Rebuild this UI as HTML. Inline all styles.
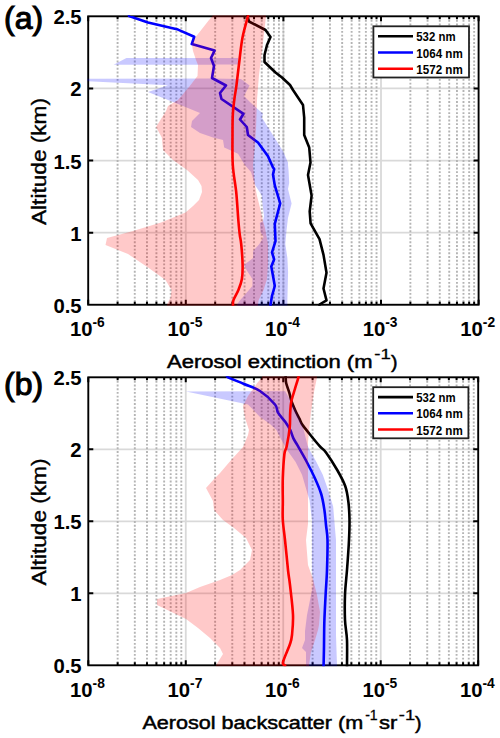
<!DOCTYPE html>
<html><head><meta charset="utf-8"><style>
html,body{margin:0;padding:0;background:#fff;width:500px;height:738px;overflow:hidden}
svg{display:block}
text{font-family:"Liberation Sans",sans-serif;fill:#000}
.tk{font-size:20.3px;font-weight:bold}
.sup{font-size:13.8px}
.lg{font-size:12px;font-weight:bold}
.xl{font-size:18.8px;stroke:#000;stroke-width:0.5px}
.xs{font-size:14.5px;stroke:#000;stroke-width:0.3px}
.yl{font-size:19.8px;stroke:#000;stroke-width:0.4px}
.pl{font-size:32px;stroke:#000;stroke-width:1.1px}
</style></head><body>
<svg width="500" height="738" viewBox="0 0 500 738">
<rect width="500" height="738" fill="#fff"/>
<defs><clipPath id="ca"><rect x="87.25" y="15.350000000000001" width="392.3" height="290.34999999999997"/></clipPath></defs>
<path d="M185.80 16.3V304.8M283.40 16.3V304.8M381.00 16.3V304.8M88.2 232.64H478.6M88.2 160.53H478.6M88.2 88.41H478.6" stroke="#d9d9d9" stroke-width="1.8" fill="none"/>
<path d="M117.58 16.3V304.8M134.77 16.3V304.8M146.96 16.3V304.8M156.42 16.3V304.8M164.15 16.3V304.8M170.68 16.3V304.8M176.34 16.3V304.8M181.33 16.3V304.8M215.18 16.3V304.8M232.37 16.3V304.8M244.56 16.3V304.8M254.02 16.3V304.8M261.75 16.3V304.8M268.28 16.3V304.8M273.94 16.3V304.8M278.93 16.3V304.8M312.78 16.3V304.8M329.97 16.3V304.8M342.16 16.3V304.8M351.62 16.3V304.8M359.35 16.3V304.8M365.88 16.3V304.8M371.54 16.3V304.8M376.53 16.3V304.8M410.38 16.3V304.8M427.57 16.3V304.8M439.76 16.3V304.8M449.22 16.3V304.8M456.95 16.3V304.8M463.48 16.3V304.8M469.14 16.3V304.8M474.13 16.3V304.8M283.40 16.3V304.8" stroke="#b4b4b4" stroke-width="1.9" stroke-dasharray="1.9 1.79" stroke-dashoffset="-3.6" fill="none"/>
<path d="M88.20 304.75v-5M88.20 16.3v5M117.58 304.75v-3M117.58 16.3v3M134.77 304.75v-3M134.77 16.3v3M146.96 304.75v-3M146.96 16.3v3M156.42 304.75v-3M156.42 16.3v3M164.15 304.75v-3M164.15 16.3v3M170.68 304.75v-3M170.68 16.3v3M176.34 304.75v-3M176.34 16.3v3M181.33 304.75v-3M181.33 16.3v3M185.80 304.75v-5M185.80 16.3v5M215.18 304.75v-3M215.18 16.3v3M232.37 304.75v-3M232.37 16.3v3M244.56 304.75v-3M244.56 16.3v3M254.02 304.75v-3M254.02 16.3v3M261.75 304.75v-3M261.75 16.3v3M268.28 304.75v-3M268.28 16.3v3M273.94 304.75v-3M273.94 16.3v3M278.93 304.75v-3M278.93 16.3v3M283.40 304.75v-5M283.40 16.3v5M312.78 304.75v-3M312.78 16.3v3M329.97 304.75v-3M329.97 16.3v3M342.16 304.75v-3M342.16 16.3v3M351.62 304.75v-3M351.62 16.3v3M359.35 304.75v-3M359.35 16.3v3M365.88 304.75v-3M365.88 16.3v3M371.54 304.75v-3M371.54 16.3v3M376.53 304.75v-3M376.53 16.3v3M381.00 304.75v-5M381.00 16.3v5M410.38 304.75v-3M410.38 16.3v3M427.57 304.75v-3M427.57 16.3v3M439.76 304.75v-3M439.76 16.3v3M449.22 304.75v-3M449.22 16.3v3M456.95 304.75v-3M456.95 16.3v3M463.48 304.75v-3M463.48 16.3v3M469.14 304.75v-3M469.14 16.3v3M474.13 304.75v-3M474.13 16.3v3M478.60 304.75v-5M478.60 16.3v5M88.2 232.64h5M478.6 232.64h-5M88.2 160.53h5M478.6 160.53h-5M88.2 88.41h5M478.6 88.41h-5" stroke="#000" stroke-width="2" fill="none"/>
<rect x="88.2" y="16.3" width="390.40000000000003" height="288.45" fill="none" stroke="#000" stroke-width="1.9"/>
<g clip-path="url(#ca)">
<polyline points="247.5,14.8 247.5,16.0 249.0,21.5 265.5,30.0 270.5,37.0 267.0,45.0 264.5,55.0 264.5,62.0 275.5,72.5 282.0,77.5 290.0,85.0 293.0,90.0 298.0,97.5 303.0,105.0 304.2,117.5 304.2,135.0 309.2,147.5 310.5,162.5 308.0,175.0 311.6,195.6 309.7,211.4 310.6,223.3 319.5,239.1 323.5,254.9 326.5,272.7 323.5,288.5 326.5,300.4 319.5,304.5 319.5,306.2" fill="none" stroke="#000" stroke-width="2.6" stroke-linejoin="round"/>
<polygon points="128.0,14.8 128.0,16.0 147.0,22.0 177.0,29.0 193.2,36.3 190.8,43.5 213.6,50.1 210.0,57.9 126.4,58.0 113.6,64.7 213.0,64.8 211.0,78.6 40.0,78.8 88.0,81.2 168.0,85.2 148.0,92.0 183.0,106.0 200.0,113.0 192.0,121.0 191.0,127.0 200.0,133.0 213.0,137.5 223.0,140.0 224.2,147.5 238.0,153.8 244.8,165.0 251.0,172.0 253.5,180.0 255.0,185.0 261.6,195.0 262.8,207.0 264.0,216.0 263.0,221.0 259.8,223.0 260.5,232.0 263.6,237.0 259.4,244.0 253.1,251.0 253.1,258.0 244.0,265.0 246.8,270.6 252.4,279.0 252.4,286.0 244.0,295.8 239.0,301.4 237.0,304.6 237.0,306.2 287.4,306.2 287.4,304.6 287.4,300.0 288.1,272.0 287.4,258.0 285.3,244.0 286.5,230.8 288.0,218.0 291.6,203.4 288.0,189.0 289.2,183.0 288.6,171.0 288.0,165.0 288.0,162.5 283.0,151.2 270.5,131.2 261.8,117.5 263.0,113.8 250.5,102.5 244.0,96.0 249.6,85.4 241.0,79.0 213.0,78.6 215.0,64.5 238.0,64.4 238.0,58.0 212.0,57.9 215.6,51.1 192.8,44.5 195.2,37.3 179.0,30.1 149.0,23.0 130.0,16.0 130.0,14.8" fill="rgba(0,0,255,0.21)"/>
<polyline points="129.0,14.8 129.0,16.0 148.0,22.5 178.0,29.6 194.2,36.8 191.8,44.0 214.6,50.6 211.0,58.0 214.0,66.0 212.0,78.0 226.0,85.5 220.0,93.0 221.5,99.0 243.5,113.8 240.0,119.5 246.8,127.0 248.0,135.0 258.0,142.5 268.0,156.2 273.0,167.5 274.2,169.0 273.0,174.6 274.8,185.4 280.2,203.4 274.8,223.8 275.5,241.2 272.0,252.4 274.1,259.4 271.3,266.4 274.8,286.0 272.0,295.8 270.6,304.5 270.6,306.2" fill="none" stroke="#0000ff" stroke-width="2.6" stroke-linejoin="round"/>
<polygon points="212.5,14.8 212.5,16.0 209.0,20.0 199.6,32.0 194.8,38.0 191.8,44.0 193.0,51.0 196.0,60.0 198.0,65.0 197.5,76.0 189.0,87.0 178.0,100.0 168.0,106.0 166.0,111.0 156.0,127.0 161.8,137.5 163.0,150.0 173.0,160.0 187.0,170.0 198.0,180.0 201.5,186.0 202.0,192.0 199.0,200.0 193.0,206.0 185.5,212.5 161.0,222.5 133.0,231.0 107.0,238.0 105.5,245.0 128.0,254.0 148.0,267.5 165.5,280.0 171.5,290.0 170.5,297.5 167.0,304.6 167.0,306.2 258.0,306.2 258.0,304.6 258.7,300.0 263.6,290.0 267.0,279.0 268.0,265.0 268.0,244.0 265.0,228.0 263.0,221.0 262.0,216.0 259.8,207.0 256.8,195.0 255.0,185.0 254.5,180.0 253.0,165.0 254.5,150.0 256.0,130.0 257.0,100.0 259.0,75.0 262.5,47.0 266.0,16.0 266.0,14.8" fill="rgba(255,0,0,0.21)"/>
<path d="M248.0 14.8C248.0 15.0 248.9 12.2 248.0 16.0C247.1 19.8 243.9 30.2 242.5 37.5C241.1 44.8 240.5 52.1 239.5 60.0C238.5 67.9 237.3 78.5 236.5 85.0C235.7 91.5 235.0 94.0 234.4 99.0C233.8 104.0 233.1 109.0 232.8 115.0C232.5 121.0 232.5 126.7 232.5 135.0C232.5 143.3 232.2 155.3 232.8 165.0C233.4 174.7 235.4 183.7 236.3 193.0C237.2 202.3 237.8 214.0 238.4 221.0C239.0 228.0 239.3 231.2 239.8 235.0C240.3 238.8 240.7 239.0 241.2 244.0C241.7 249.0 242.5 259.2 242.6 265.0C242.7 270.8 242.6 274.8 241.9 279.0C241.2 283.2 239.8 286.5 238.4 290.0C237.0 293.5 234.4 297.6 233.5 300.0C232.6 302.4 233.1 303.5 233.0 304.5C232.9 305.5 233.0 306.0 233.0 306.2" fill="none" stroke="#ff0000" stroke-width="2.6" stroke-linejoin="round"/>
</g>
<rect x="373.4" y="26.3" width="95.6" height="51.2" fill="#fff" stroke="#222" stroke-width="1.8"/>
<path d="M378 36.3H413" stroke="#000" stroke-width="2.6"/>
<text x="416.3" y="41.3" class="lg" textLength="39.2" lengthAdjust="spacingAndGlyphs">532 nm</text>
<path d="M378 52.5H413" stroke="#0000ff" stroke-width="2.6"/>
<text x="416.3" y="57.5" class="lg" textLength="46.5" lengthAdjust="spacingAndGlyphs">1064 nm</text>
<path d="M378 68.7H413" stroke="#ff0000" stroke-width="2.6"/>
<text x="416.3" y="73.7" class="lg" textLength="46.5" lengthAdjust="spacingAndGlyphs">1572 nm</text>
<text x="81.6" y="312.8" class="tk" text-anchor="end">0.5</text>
<text x="81.6" y="240.6" class="tk" text-anchor="end">1</text>
<text x="81.6" y="168.5" class="tk" text-anchor="end">1.5</text>
<text x="81.6" y="96.4" class="tk" text-anchor="end">2</text>
<text x="81.6" y="24.3" class="tk" text-anchor="end">2.5</text>
<text x="69.9" y="336.4" class="tk">10<tspan class="sup" dy="-9.2">-6</tspan></text>
<text x="167.5" y="336.4" class="tk">10<tspan class="sup" dy="-9.2">-5</tspan></text>
<text x="265.1" y="336.4" class="tk">10<tspan class="sup" dy="-9.2">-4</tspan></text>
<text x="362.7" y="336.4" class="tk">10<tspan class="sup" dy="-9.2">-3</tspan></text>
<text x="460.3" y="336.4" class="tk">10<tspan class="sup" dy="-9.2">-2</tspan></text>
<text x="167" y="368.3" class="xl" textLength="205.5" lengthAdjust="spacingAndGlyphs">Aerosol extinction (m</text><text x="374.3" y="358.8" class="xs" textLength="16.5" lengthAdjust="spacingAndGlyphs">-1</text><text x="391" y="368.3" class="xl" textLength="6.5" lengthAdjust="spacingAndGlyphs">)</text>
<text x="4" y="29" class="pl">(a)</text>
<defs><clipPath id="cb"><rect x="87.35" y="376.35" width="391.79999999999995" height="289.8999999999999"/></clipPath></defs>
<path d="M185.77 377.3V665.3M283.25 377.3V665.3M380.72 377.3V665.3M88.3 593.30H478.2M88.3 521.30H478.2M88.3 449.30H478.2" stroke="#d9d9d9" stroke-width="1.8" fill="none"/>
<path d="M117.64 377.3V665.3M134.81 377.3V665.3M146.99 377.3V665.3M156.43 377.3V665.3M164.15 377.3V665.3M170.68 377.3V665.3M176.33 377.3V665.3M181.31 377.3V665.3M215.12 377.3V665.3M232.28 377.3V665.3M244.46 377.3V665.3M253.91 377.3V665.3M261.63 377.3V665.3M268.15 377.3V665.3M273.80 377.3V665.3M278.79 377.3V665.3M312.59 377.3V665.3M329.76 377.3V665.3M341.94 377.3V665.3M351.38 377.3V665.3M359.10 377.3V665.3M365.63 377.3V665.3M371.28 377.3V665.3M376.26 377.3V665.3M410.07 377.3V665.3M427.23 377.3V665.3M439.41 377.3V665.3M448.86 377.3V665.3M456.58 377.3V665.3M463.10 377.3V665.3M468.75 377.3V665.3M473.74 377.3V665.3" stroke="#b4b4b4" stroke-width="1.9" stroke-dasharray="1.9 1.79" stroke-dashoffset="-3.6" fill="none"/>
<path d="M88.30 665.3v-5M88.30 377.3v5M117.64 665.3v-3M117.64 377.3v3M134.81 665.3v-3M134.81 377.3v3M146.99 665.3v-3M146.99 377.3v3M156.43 665.3v-3M156.43 377.3v3M164.15 665.3v-3M164.15 377.3v3M170.68 665.3v-3M170.68 377.3v3M176.33 665.3v-3M176.33 377.3v3M181.31 665.3v-3M181.31 377.3v3M185.77 665.3v-5M185.77 377.3v5M215.12 665.3v-3M215.12 377.3v3M232.28 665.3v-3M232.28 377.3v3M244.46 665.3v-3M244.46 377.3v3M253.91 665.3v-3M253.91 377.3v3M261.63 665.3v-3M261.63 377.3v3M268.15 665.3v-3M268.15 377.3v3M273.80 665.3v-3M273.80 377.3v3M278.79 665.3v-3M278.79 377.3v3M283.25 665.3v-5M283.25 377.3v5M312.59 665.3v-3M312.59 377.3v3M329.76 665.3v-3M329.76 377.3v3M341.94 665.3v-3M341.94 377.3v3M351.38 665.3v-3M351.38 377.3v3M359.10 665.3v-3M359.10 377.3v3M365.63 665.3v-3M365.63 377.3v3M371.28 665.3v-3M371.28 377.3v3M376.26 665.3v-3M376.26 377.3v3M380.72 665.3v-5M380.72 377.3v5M410.07 665.3v-3M410.07 377.3v3M427.23 665.3v-3M427.23 377.3v3M439.41 665.3v-3M439.41 377.3v3M448.86 665.3v-3M448.86 377.3v3M456.58 665.3v-3M456.58 377.3v3M463.10 665.3v-3M463.10 377.3v3M468.75 665.3v-3M468.75 377.3v3M473.74 665.3v-3M473.74 377.3v3M478.20 665.3v-5M478.20 377.3v5M88.3 593.30h5M478.2 593.30h-5M88.3 521.30h5M478.2 521.30h-5M88.3 449.30h5M478.2 449.30h-5" stroke="#000" stroke-width="2" fill="none"/>
<rect x="88.3" y="377.3" width="389.9" height="287.99999999999994" fill="none" stroke="#000" stroke-width="1.9"/>
<g clip-path="url(#cb)">
<path d="M285.7 375.8C285.7 376.1 285.6 376.1 285.7 377.3C285.8 378.5 285.6 380.7 286.2 383.2C286.8 385.7 288.3 389.4 289.2 392.3C290.1 395.2 290.3 397.4 291.3 400.5C292.3 403.6 294.0 407.6 295.3 410.6C296.6 413.6 298.2 416.3 299.4 418.7C300.6 421.1 300.7 422.2 302.4 424.8C304.1 427.4 306.7 430.4 309.6 434.0C312.5 437.6 317.0 443.1 319.7 446.2C322.4 449.3 323.1 448.4 326.0 452.4C328.9 456.4 334.0 464.4 337.2 470.0C340.4 475.6 343.3 480.7 345.2 486.0C347.1 491.3 347.7 496.3 348.4 502.0C349.1 507.7 349.4 513.7 349.5 520.0C349.6 526.3 349.4 531.7 349.0 540.0C348.6 548.3 347.7 560.8 347.0 570.0C346.3 579.2 345.3 586.7 345.0 595.0C344.7 603.3 344.7 612.5 345.0 620.0C345.3 627.5 346.7 632.5 347.0 640.0C347.3 647.5 347.0 660.8 347.0 665.3C347.0 669.8 347.0 666.5 347.0 666.8" fill="none" stroke="#000" stroke-width="2.6" stroke-linejoin="round"/>
<polygon points="227.0,375.8 227.0,377.3 243.0,383.5 259.0,391.2 186.0,391.4 248.0,404.5 260.0,417.0 270.0,424.0 276.4,430.0 281.2,439.6 287.6,450.8 295.6,462.0 302.0,474.8 307.6,494.0 309.5,500.0 312.0,520.0 312.0,570.0 313.0,585.0 310.0,600.0 307.0,615.0 305.0,631.0 305.0,640.0 302.0,648.0 306.0,652.0 306.0,665.3 306.0,666.8 337.0,666.8 337.0,665.3 336.0,635.0 336.0,540.0 334.8,526.0 333.2,506.8 328.4,490.8 322.8,474.8 316.4,462.0 309.2,449.2 307.5,445.2 303.5,428.9 298.4,416.7 293.3,405.5 288.2,396.4 285.2,391.3 261.0,391.0 245.0,384.5 229.0,377.3 229.0,375.8" fill="rgba(0,0,255,0.21)"/>
<path d="M228.0 375.8C228.0 376.1 225.3 375.9 228.0 377.3C230.7 378.7 238.7 381.7 244.0 384.0C249.3 386.3 254.8 387.6 260.0 391.0C265.2 394.4 272.0 400.9 275.0 404.5C278.0 408.1 276.3 409.8 278.0 412.7C279.7 415.6 283.2 418.9 285.2 421.8C287.2 424.7 288.8 427.2 290.2 429.9C291.6 432.6 292.1 435.6 293.3 438.1C294.5 440.7 295.1 441.2 297.4 445.2C299.6 449.2 303.9 456.5 306.8 462.0C309.7 467.5 312.4 472.7 314.8 478.0C317.2 483.3 319.6 488.7 321.2 494.0C322.8 499.3 323.6 504.8 324.4 510.0C325.2 515.2 325.5 520.0 326.0 525.0C326.5 530.0 327.3 532.5 327.5 540.0C327.7 547.5 327.3 560.8 327.0 570.0C326.7 579.2 326.0 586.7 325.6 595.0C325.2 603.3 324.7 611.5 324.4 620.0C324.1 628.5 324.1 638.5 324.0 646.0C323.9 653.5 323.7 661.8 323.6 665.3C323.5 668.8 323.6 666.5 323.6 666.8" fill="none" stroke="#0000ff" stroke-width="2.6" stroke-linejoin="round"/>
<polygon points="262.0,375.8 262.0,377.6 258.0,382.0 248.0,396.0 243.0,406.0 245.0,418.0 249.0,430.0 248.0,435.0 243.0,447.0 232.0,459.0 220.0,473.0 215.0,478.0 206.0,488.0 213.0,501.0 214.0,510.0 223.0,520.0 234.0,528.0 246.0,538.0 252.0,550.0 250.0,560.0 240.0,570.0 232.0,575.0 220.0,580.0 200.0,587.0 186.0,593.0 157.0,599.0 157.0,605.0 186.0,619.0 198.0,628.0 210.0,638.0 220.0,648.0 223.0,654.0 218.0,662.0 216.0,665.3 216.0,666.8 309.0,666.8 309.0,665.3 311.0,652.0 315.0,640.0 318.0,630.0 319.0,625.0 320.0,612.0 317.0,595.0 313.0,579.0 308.0,565.0 306.0,540.0 308.0,524.0 308.0,505.0 308.0,442.0 309.0,432.0 311.0,412.0 314.0,392.0 317.0,377.6 317.0,375.8" fill="rgba(255,0,0,0.21)"/>
<path d="M298.4 375.8C298.4 376.1 299.0 375.1 298.4 377.3C297.8 379.6 296.0 385.3 294.8 389.3C293.6 393.3 292.1 397.6 291.3 401.5C290.5 405.4 290.5 408.3 290.2 412.7C289.9 417.1 290.3 422.3 289.7 427.9C289.1 433.5 287.6 441.8 286.7 446.2C285.8 450.6 285.0 448.7 284.4 454.0C283.8 459.3 283.1 470.0 282.8 478.0C282.5 486.0 282.8 495.0 282.8 502.0C282.8 509.0 282.4 513.7 282.8 520.0C283.2 526.3 284.1 531.7 285.0 540.0C285.9 548.3 287.2 562.5 288.0 570.0C288.8 577.5 289.2 577.5 290.0 585.0C290.8 592.5 292.7 606.7 293.0 615.0C293.3 623.3 292.5 630.2 292.0 635.0C291.5 639.8 291.5 639.5 290.0 644.0C288.5 648.5 283.8 658.5 283.0 662.0C282.2 665.5 284.7 664.5 285.0 665.3C285.3 666.1 285.0 666.5 285.0 666.8" fill="none" stroke="#ff0000" stroke-width="2.6" stroke-linejoin="round"/>
</g>
<rect x="373.2" y="387.2" width="95.2" height="51.1" fill="#fff" stroke="#222" stroke-width="1.8"/>
<path d="M378 397.1H413" stroke="#000" stroke-width="2.6"/>
<text x="416.3" y="402.1" class="lg" textLength="39.2" lengthAdjust="spacingAndGlyphs">532 nm</text>
<path d="M378 413.3H413" stroke="#0000ff" stroke-width="2.6"/>
<text x="416.3" y="418.3" class="lg" textLength="46.5" lengthAdjust="spacingAndGlyphs">1064 nm</text>
<path d="M378 429.5H413" stroke="#ff0000" stroke-width="2.6"/>
<text x="416.3" y="434.5" class="lg" textLength="46.5" lengthAdjust="spacingAndGlyphs">1572 nm</text>
<text x="81.6" y="673.3" class="tk" text-anchor="end">0.5</text>
<text x="81.6" y="601.3" class="tk" text-anchor="end">1</text>
<text x="81.6" y="529.3" class="tk" text-anchor="end">1.5</text>
<text x="81.6" y="457.3" class="tk" text-anchor="end">2</text>
<text x="81.6" y="385.3" class="tk" text-anchor="end">2.5</text>
<text x="70.0" y="696.9" class="tk">10<tspan class="sup" dy="-9.2">-8</tspan></text>
<text x="167.5" y="696.9" class="tk">10<tspan class="sup" dy="-9.2">-7</tspan></text>
<text x="264.9" y="696.9" class="tk">10<tspan class="sup" dy="-9.2">-6</tspan></text>
<text x="362.4" y="696.9" class="tk">10<tspan class="sup" dy="-9.2">-5</tspan></text>
<text x="459.9" y="696.9" class="tk">10<tspan class="sup" dy="-9.2">-4</tspan></text>
<text x="142.4" y="729.3" class="xl" textLength="220.8" lengthAdjust="spacingAndGlyphs">Aerosol backscatter (m</text><text x="365.2" y="720" class="xs" textLength="12.5" lengthAdjust="spacingAndGlyphs">-1</text><text x="379" y="729.3" class="xl" textLength="18.3" lengthAdjust="spacingAndGlyphs">sr</text><text x="398.8" y="720" class="xs" textLength="16.3" lengthAdjust="spacingAndGlyphs">-1</text><text x="415" y="729.3" class="xl" textLength="6.5" lengthAdjust="spacingAndGlyphs">)</text>
<text x="4" y="395" class="pl">(b)</text>
<text transform="translate(46.3,225) rotate(-90)" class="yl" textLength="127" lengthAdjust="spacingAndGlyphs">Altitude (km)</text>
<text transform="translate(46.3,585.5) rotate(-90)" class="yl" textLength="127" lengthAdjust="spacingAndGlyphs">Altitude (km)</text>
</svg></body></html>
